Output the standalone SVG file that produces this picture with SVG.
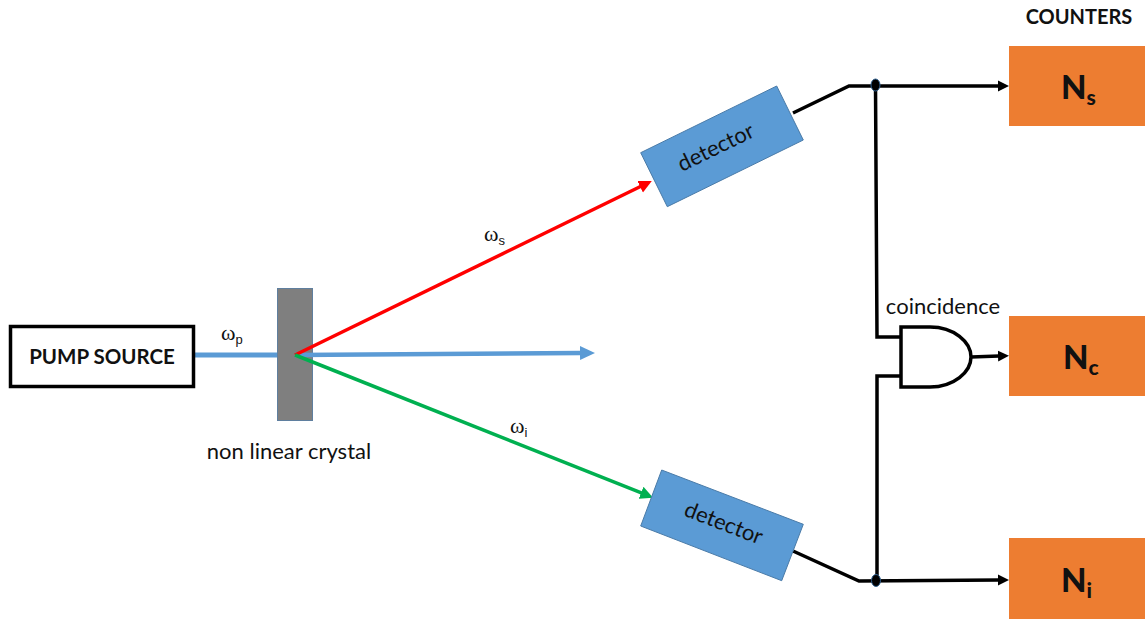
<svg xmlns="http://www.w3.org/2000/svg" width="1145" height="619" viewBox="0 0 1145 619">
<style>
text{font-family:Lato,"Liberation Sans",sans-serif;fill:#111}
.b{font-weight:700}
.l{font-size:22px}
.o{font-family:"Liberation Serif",serif;font-size:22px}
.sub{font-family:"Liberation Sans",sans-serif;font-size:13px}
.c{fill:#ed7d31}
.d{fill:#5b9bd5;stroke:#4a7ba8;stroke-width:1}
.w{fill:none;stroke:#000;stroke-width:3.500}
.n{font-size:33px;font-weight:900}
.ns{font-size:21px;font-weight:900}
</style>
<defs>
<marker id="ak" markerUnits="userSpaceOnUse" markerWidth="12" markerHeight="12" refX="1" refY="6" orient="auto"><path d="M0 0.500L11 6L0 11.500Z" fill="#000"/></marker>
<marker id="ar" markerUnits="userSpaceOnUse" markerWidth="14" markerHeight="14" refX="1" refY="7" orient="auto"><path d="M0 0.500L13 7L0 13.500Z" fill="#f00"/></marker>
<marker id="ag" markerUnits="userSpaceOnUse" markerWidth="14" markerHeight="14" refX="1" refY="7" orient="auto"><path d="M0 0.500L13 7L0 13.500Z" fill="#00b050"/></marker>
<marker id="ab" markerUnits="userSpaceOnUse" markerWidth="16" markerHeight="15" refX="1" refY="7.500" orient="auto"><path d="M0 0.500L15 7.500L0 14.500Z" fill="#5b9bd5"/></marker>
</defs>
<g id="connectors">
<path d="M194 355H295" fill="none" stroke="#5b9bd5" stroke-width="5"/>
</g>
<g id="crystal">
<rect x="277.500" y="288.500" width="35" height="132" fill="#7f7f7f" stroke="#5f7f9f" stroke-width="1"/>
</g>
<g id="connectors-beams">
<path d="M295 355L581 353" fill="none" stroke="#5b9bd5" stroke-width="4.500" marker-end="url(#ab)"/>
<path d="M295 355L641 186.300" fill="none" stroke="#f00" stroke-width="3.500" marker-end="url(#ar)"/>
<path d="M295 355L642 493.200" fill="none" stroke="#00b050" stroke-width="3.500" marker-end="url(#ag)"/>
<path class="w" d="M793 113L849 86H999" marker-end="url(#ak)"/>
<path class="w" d="M793 551L859 581L999 580" marker-end="url(#ak)"/>
<path class="w" d="M875.500 85L877 337H901"/>
<path class="w" d="M877 580V376H901"/>
<path class="w" d="M971 357L999 356" marker-end="url(#ak)"/>
<ellipse cx="875.500" cy="85" rx="4.500" ry="6" fill="#000" stroke="#2e5f8f" stroke-width="1"/>
<ellipse cx="876" cy="580.500" rx="4.500" ry="6" fill="#000" stroke="#2e5f8f" stroke-width="1"/>
</g>
<g id="pump">
<rect x="10.500" y="326.500" width="183" height="60" fill="#fff" stroke="#000" stroke-width="3.500"/>
<text class="b" x="102" y="364" font-size="20.500" text-anchor="middle">PUMP SOURCE</text>
</g>
<g id="crystal-label"><text class="l" x="289" y="459" text-anchor="middle">non linear crystal</text></g>
<g id="labels">
<text class="o" x="221" y="340">ω<tspan class="sub" dy="4">p</tspan></text>
<text class="o" x="484" y="241">ω<tspan class="sub" dy="4">s</tspan></text>
<text class="o" x="510" y="433">ω<tspan class="sub" dy="4">i</tspan></text>
</g>
<g id="detector-s">
<polygon class="d" points="776.700,86 803.300,140 667.300,206.700 640.700,152.700"/>
<text class="l" text-anchor="middle" transform="translate(719,154) rotate(-26)">detector</text>
</g>
<g id="detector-i">
<polygon class="d" points="661.700,470 803.300,524.300 781.700,580.700 640.700,526"/>
<text class="l" text-anchor="middle" transform="translate(721,530) rotate(21)">detector</text>
</g>
<g id="gate">
<path d="M901 327H930C954 327 971 342 971 357C971 372 954 387 930 387H901Z" fill="#fff" stroke="#000" stroke-width="3.500"/>
<text class="l" x="943" y="314" text-anchor="middle">coincidence</text>
</g>
<g id="counter-label"><text class="b" x="1079" y="24" font-size="20" text-anchor="middle">COUNTERS</text></g>
<g id="counter-s">
<rect class="c" x="1009" y="46" width="136" height="80"/>
<text class="n" x="1061" y="99">N<tspan class="ns" dy="6">s</tspan></text>
</g>
<g id="counter-c">
<rect class="c" x="1009" y="316" width="136" height="80"/>
<text class="n" x="1063" y="369">N<tspan class="ns" dy="6">c</tspan></text>
</g>
<g id="counter-i">
<rect class="c" x="1009" y="538" width="136" height="81"/>
<text class="n" x="1061" y="592">N<tspan class="ns" dy="6">i</tspan></text>
</g>
</svg>
